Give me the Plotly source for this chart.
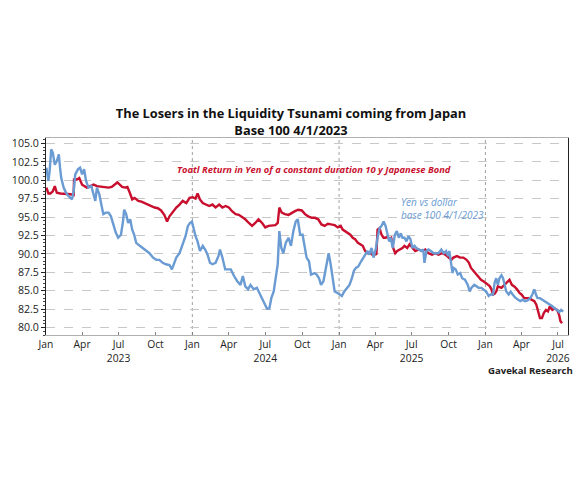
import plotly.graph_objects as go

# Yen vs dollar, base 100 4/1/2023
yen_dates = [
    "2023-01-02", "2023-01-07", "2023-01-10", "2023-01-14", "2023-01-18", "2023-01-23", "2023-01-28",
    "2023-02-02", "2023-02-05", "2023-02-08", "2023-02-14", "2023-02-20", "2023-02-27", "2023-03-07",
    "2023-03-11", "2023-03-15", "2023-03-22", "2023-03-27", "2023-04-01", "2023-04-06", "2023-04-11",
    "2023-04-17", "2023-04-24", "2023-04-30", "2023-05-04", "2023-05-08", "2023-05-14", "2023-05-19",
    "2023-05-24", "2023-05-30", "2023-06-06", "2023-06-12", "2023-06-18", "2023-06-24", "2023-06-30",
    "2023-07-07", "2023-07-12", "2023-07-15", "2023-07-20", "2023-07-25", "2023-07-30", "2023-08-04",
    "2023-08-09", "2023-08-14", "2023-08-23", "2023-08-31", "2023-09-08", "2023-09-16", "2023-09-25",
    "2023-10-03", "2023-10-11", "2023-10-19", "2023-10-27", "2023-11-05", "2023-11-11", "2023-11-17",
    "2023-11-22", "2023-11-30", "2023-12-08", "2023-12-15", "2023-12-21", "2023-12-26", "2023-12-31",
    "2024-01-04", "2024-01-09", "2024-01-14", "2024-01-20", "2024-01-27", "2024-02-02", "2024-02-08",
    "2024-02-14", "2024-02-20", "2024-02-28", "2024-03-06", "2024-03-10", "2024-03-16", "2024-03-23",
    "2024-03-28", "2024-04-06", "2024-04-14", "2024-04-22", "2024-04-30", "2024-05-06", "2024-05-12",
    "2024-05-19", "2024-05-25", "2024-06-02", "2024-06-10", "2024-06-16", "2024-06-23", "2024-06-29",
    "2024-07-05", "2024-07-11", "2024-07-16", "2024-07-22", "2024-07-27", "2024-08-01", "2024-08-05",
    "2024-08-10", "2024-08-15", "2024-08-21", "2024-08-28", "2024-09-03", "2024-09-09", "2024-09-15",
    "2024-09-20", "2024-09-26", "2024-10-02", "2024-10-07", "2024-10-12", "2024-10-18", "2024-10-23",
    "2024-11-01", "2024-11-06", "2024-11-12", "2024-11-17", "2024-11-23", "2024-11-28", "2024-12-03",
    "2024-12-06", "2024-12-11", "2024-12-17", "2024-12-21", "2024-12-28", "2025-01-02", "2025-01-08",
    "2025-01-14", "2025-01-21", "2025-01-27", "2025-02-02", "2025-02-07", "2025-02-12", "2025-02-18",
    "2025-02-25", "2025-03-03", "2025-03-09", "2025-03-13", "2025-03-17", "2025-03-23", "2025-03-28",
    "2025-04-03", "2025-04-07", "2025-04-12", "2025-04-17", "2025-04-22", "2025-04-27", "2025-05-02",
    "2025-05-06", "2025-05-10", "2025-05-15", "2025-05-20", "2025-05-25", "2025-05-30", "2025-06-04",
    "2025-06-08", "2025-06-13", "2025-06-18", "2025-06-23", "2025-06-28", "2025-07-03", "2025-07-08",
    "2025-07-13", "2025-07-19", "2025-07-25", "2025-07-30", "2025-08-02", "2025-08-07", "2025-08-12",
    "2025-08-18", "2025-08-25", "2025-08-31", "2025-09-06", "2025-09-13", "2025-09-19", "2025-09-25",
    "2025-09-30", "2025-10-03", "2025-10-07", "2025-10-11", "2025-10-14", "2025-10-19", "2025-10-24",
    "2025-10-30", "2025-11-04", "2025-11-11", "2025-11-18", "2025-11-23", "2025-11-27", "2025-12-04",
    "2025-12-10", "2025-12-15", "2025-12-22", "2025-12-28", "2026-01-03", "2026-01-09", "2026-01-14",
    "2026-01-20", "2026-01-24", "2026-01-28", "2026-02-01", "2026-02-05", "2026-02-10", "2026-02-14",
    "2026-02-18", "2026-02-22", "2026-02-28", "2026-03-05", "2026-03-10", "2026-03-16", "2026-03-23",
    "2026-03-29", "2026-04-04", "2026-04-10", "2026-04-16", "2026-04-23", "2026-04-28", "2026-05-03",
    "2026-05-07", "2026-05-11", "2026-05-17", "2026-05-23", "2026-05-29", "2026-06-04", "2026-06-11",
    "2026-06-17", "2026-06-23", "2026-06-29", "2026-07-04", "2026-07-09", "2026-07-14",
]
yen_values = [
    101.7, 99.9, 101.2, 104.2, 103.7, 102.1, 102.6,
    103.5, 101.7, 100.3, 99.0, 98.3, 97.8, 97.4,
    98.5, 100.8, 101.5, 101.7, 100.8, 101.5, 99.9,
    99.0, 99.2, 97.8, 97.2, 99.0, 98.1, 96.7,
    95.4, 95.6, 95.6, 95.1, 94.0, 92.9, 92.2,
    92.6, 94.4, 96.0, 95.4, 94.2, 94.7, 93.3,
    92.6, 91.5, 91.1, 90.8, 90.4, 90.1, 89.5,
    89.2, 89.2, 88.8, 88.6, 88.5, 87.9, 88.8,
    89.5, 90.1, 91.3, 92.4, 93.8, 94.2, 94.4,
    93.5, 92.4, 91.7, 90.4, 91.1, 90.6, 89.9,
    88.8, 88.6, 88.8, 89.7, 90.6, 89.5, 87.9,
    87.9, 87.9, 87.0, 86.3, 85.8, 87.0, 85.6,
    85.2, 85.8, 85.2, 85.4, 84.7, 84.0, 83.1,
    82.6, 82.6, 84.0, 84.9, 86.7, 88.6, 93.1,
    90.8, 90.1, 91.5, 92.2, 91.1, 93.1, 94.4,
    94.7, 92.6, 92.6, 90.8, 89.5, 89.0, 87.2,
    87.4, 87.2, 86.7, 85.8, 86.3, 87.7, 89.0,
    90.1, 88.6, 86.7, 84.9, 84.7, 84.5, 84.3,
    84.9, 85.4, 85.8, 86.7, 87.7, 88.1, 88.3,
    89.0, 89.5, 90.1, 90.4, 89.9, 90.8, 89.5,
    90.8, 92.2, 93.5, 93.8, 94.4, 93.8, 92.6,
    91.7, 92.2, 90.8, 92.6, 93.1, 92.2, 92.8,
    92.2, 92.2, 91.7, 92.4, 92.0, 90.8, 91.1,
    90.8, 90.6, 90.4, 90.6, 88.8, 90.4, 90.6,
    90.4, 90.1, 90.1, 90.1, 90.6, 90.1, 90.4,
    89.7, 90.4, 88.8, 87.4, 88.1, 87.9, 87.2,
    87.4, 86.7, 86.5, 85.8, 84.9, 85.4, 85.8,
    85.6, 85.4, 85.4, 85.2, 84.9, 84.3, 84.5,
    84.5, 86.1, 86.7, 85.8, 86.7, 87.1, 86.7,
    85.6, 84.9, 84.5, 84.9, 84.5, 84.1, 83.8,
    83.6, 83.8, 83.6, 83.7, 84.0, 84.5, 85.2,
    84.5, 84.0, 84.0, 83.8, 83.6, 83.4, 83.1,
    82.9, 82.6, 82.4, 82.1, 82.4, 82.2,
]

# Total return in yen of a constant duration 10y Japanese bond
jgb_dates = [
    "2023-01-02", "2023-01-07", "2023-01-12", "2023-01-18", "2023-01-23", "2023-01-28", "2023-02-06",
    "2023-02-18", "2023-03-03", "2023-03-11", "2023-03-12", "2023-03-19", "2023-03-25", "2023-04-01",
    "2023-04-07", "2023-04-13", "2023-04-21", "2023-04-30", "2023-05-08", "2023-05-18", "2023-05-28",
    "2023-06-06", "2023-06-14", "2023-06-22", "2023-06-28", "2023-07-04", "2023-07-10", "2023-07-17",
    "2023-07-23", "2023-07-29", "2023-08-04", "2023-08-10", "2023-08-19", "2023-08-27", "2023-09-04",
    "2023-09-12", "2023-09-20", "2023-09-29", "2023-10-07", "2023-10-15", "2023-10-23", "2023-10-30",
    "2023-11-05", "2023-11-13", "2023-11-22", "2023-11-30", "2023-12-08", "2023-12-17", "2023-12-25",
    "2024-01-02", "2024-01-09", "2024-01-14", "2024-01-20", "2024-01-27", "2024-02-04", "2024-02-12",
    "2024-02-20", "2024-02-28", "2024-03-08", "2024-03-16", "2024-03-24", "2024-04-01", "2024-04-09",
    "2024-04-18", "2024-04-26", "2024-05-04", "2024-05-12", "2024-05-21", "2024-05-29", "2024-06-06",
    "2024-06-14", "2024-06-23", "2024-07-01", "2024-07-09", "2024-07-18", "2024-07-26", "2024-08-01",
    "2024-08-05", "2024-08-11", "2024-08-19", "2024-08-28", "2024-09-05", "2024-09-13", "2024-09-21",
    "2024-09-30", "2024-10-08", "2024-10-16", "2024-10-25", "2024-11-02", "2024-11-10", "2024-11-18",
    "2024-11-26", "2024-12-04", "2024-12-12", "2024-12-21", "2024-12-29", "2025-01-05", "2025-01-10",
    "2025-01-16", "2025-01-23", "2025-01-29", "2025-02-04", "2025-02-10", "2025-02-17", "2025-02-23",
    "2025-03-01", "2025-03-07", "2025-03-13", "2025-03-20", "2025-03-25", "2025-03-30", "2025-04-04",
    "2025-04-07", "2025-04-12", "2025-04-17", "2025-04-22", "2025-04-27", "2025-05-02", "2025-05-06",
    "2025-05-11", "2025-05-16", "2025-05-21", "2025-05-26", "2025-06-02", "2025-06-08", "2025-06-13",
    "2025-06-20", "2025-06-26", "2025-07-03", "2025-07-10", "2025-07-19", "2025-07-27", "2025-08-04",
    "2025-08-12", "2025-08-21", "2025-08-29", "2025-09-06", "2025-09-15", "2025-09-23", "2025-10-01",
    "2025-10-08", "2025-10-13", "2025-10-22", "2025-10-30", "2025-11-07", "2025-11-15", "2025-11-21",
    "2025-11-26", "2025-12-02", "2025-12-08", "2025-12-14", "2025-12-21", "2025-12-27", "2026-01-02",
    "2026-01-08", "2026-01-12", "2026-01-16", "2026-01-20", "2026-01-24", "2026-01-28", "2026-02-01",
    "2026-02-10", "2026-02-18", "2026-02-26", "2026-03-02", "2026-03-08", "2026-03-14", "2026-03-21",
    "2026-03-27", "2026-04-01", "2026-04-08", "2026-04-14", "2026-04-20", "2026-04-26", "2026-05-03",
    "2026-05-08", "2026-05-13", "2026-05-17", "2026-05-22", "2026-05-27", "2026-06-01", "2026-06-06",
    "2026-06-11", "2026-06-17", "2026-06-23", "2026-06-29", "2026-07-04", "2026-07-07", "2026-07-11",
]
jgb_values = [
    99.0, 98.2, 98.2, 98.5, 99.2, 98.3, 98.2,
    98.2, 98.1, 98.0, 100.1, 100.1, 100.3, 99.4,
    99.2, 99.0, 99.2, 99.4, 99.2, 99.1, 99.0,
    99.0, 99.1, 99.4, 99.7, 99.4, 99.1, 99.0,
    99.1, 98.3, 97.4, 97.6, 97.2, 97.1, 96.9,
    96.7, 96.5, 96.3, 96.2, 95.9, 95.3, 94.4,
    95.1, 95.7, 96.3, 96.7, 97.2, 96.9, 97.6,
    97.7, 97.5, 98.2, 97.4, 96.9, 96.7, 96.5,
    96.7, 96.3, 96.7, 96.3, 96.5, 96.3, 95.8,
    95.4, 95.3, 95.0, 94.7, 94.2, 93.8, 94.2,
    94.7, 94.2, 93.6, 93.8, 93.9, 93.9, 94.2,
    96.3, 95.6, 95.4, 95.3, 95.6, 95.8, 96.0,
    95.9, 95.4, 95.1, 94.9, 94.9, 94.7, 94.0,
    93.8, 94.1, 94.0, 93.9, 93.6, 93.8, 93.3,
    93.1, 92.9, 92.6, 92.2, 92.0, 91.5, 91.3,
    91.1, 90.4, 90.1, 90.1, 89.9, 90.1, 89.9,
    93.3, 93.5, 92.6, 92.2, 92.2, 92.4, 92.0,
    92.2, 90.8, 90.1, 90.4, 90.6, 90.8, 91.1,
    90.8, 91.3, 90.8, 90.4, 90.6, 90.4, 90.6,
    90.1, 89.9, 90.1, 89.9, 90.1, 89.9, 89.5,
    89.2, 89.5, 89.7, 89.5, 89.5, 89.2, 88.8,
    88.1, 87.7, 87.4, 87.0, 86.5, 86.3, 86.1,
    85.8, 85.6, 85.2, 84.5, 84.6, 84.9, 85.6,
    85.4, 85.8, 86.3, 86.5, 85.8, 85.6, 85.2,
    84.7, 84.5, 84.0, 84.0, 84.0, 83.8, 83.6,
    83.1, 82.2, 81.3, 81.3, 82.0, 82.4, 82.2,
    82.9, 82.4, 82.6, 82.4, 81.7, 80.9, 80.6,
]

tick_dates = [
    "2023-01-01", "2023-04-01", "2023-07-01", "2023-10-01",
    "2024-01-01", "2024-04-01", "2024-07-01", "2024-10-01",
    "2025-01-01", "2025-04-01", "2025-07-01", "2025-10-01",
    "2026-01-01", "2026-04-01", "2026-07-01",
]
tick_labels = [
    "Jan", "Apr", "Jul<br>2023", "Oct",
    "Jan", "Apr", "Jul<br>2024", "Oct",
    "Jan", "Apr", "Jul<br>2025", "Oct",
    "Jan", "Apr", "Jul<br>2026",
]
year_starts = ["2024-01-01", "2025-01-01", "2026-01-01"]

RED = "#c8102e"
BLUE = "#6a9bd3"
FONT = "Open Sans"

fig = go.Figure()
fig.add_trace(go.Scatter(x=jgb_dates, y=jgb_values, mode="lines",
                         line=dict(color=RED, width=2.4), name="JGB"))
fig.add_trace(go.Scatter(x=yen_dates, y=yen_values, mode="lines",
                         line=dict(color=BLUE, width=2.4), name="Yen"))

# vertical dotted lines at each new year
for d in year_starts:
    fig.add_vline(x=d, line=dict(color="#a0a0a0", width=1, dash="dot"), layer="below")

fig.update_layout(
    width=582, height=482,
    margin=dict(l=41, r=13, t=138, b=147),
    paper_bgcolor="white", plot_bgcolor="white",
    showlegend=False,
    font=dict(family=FONT, size=10, color="#222222"),
    title=dict(
        text="<b>The Losers in the Liquidity Tsunami coming from Japan<br>Base 100 4/1/2023</b>",
        x=0.5, xanchor="center", xref="container",
        y=1 - 118 / 482, yanchor="middle", yref="container",
        font=dict(family=FONT, size=12.8, color="#111111"),
    ),
    xaxis=dict(
        type="date",
        range=["2023-01-01", "2026-07-26"],
        tickvals=tick_dates, ticktext=tick_labels,
        showgrid=False,
        showline=True, linecolor="#b0b0b0", linewidth=1, mirror=True,
        ticks="inside", ticklen=3, tickcolor="#808080",
        tickfont=dict(family=FONT, size=10.3, color="#222222"),
        zeroline=False,
    ),
    yaxis=dict(
        range=[79.0, 105.73],
        tickvals=[80, 82.5, 85, 87.5, 90, 92.5, 95, 97.5, 100, 102.5, 105],
        tickformat=".1f",
        showgrid=True, gridcolor="#c8c8c8", griddash="dash", gridwidth=1,
        showline=True, linecolor="#222222", linewidth=1, mirror=True,
        ticks="outside", ticklen=4, tickcolor="#222222",
        minor=dict(dtick=0.5, ticks="outside", ticklen=2, tickcolor="#444444", showgrid=False),
        tickfont=dict(family=FONT, size=10.6, color="#222222"),
        zeroline=False,
    ),
)

fig.add_annotation(
    text="<b><i>Toatl Return in Yen of a constant duration 10 y Japanese Bond</i></b>",
    xref="paper", yref="paper", x=0.248, y=0.839, xanchor="left", yanchor="middle",
    showarrow=False, font=dict(family=FONT, size=9.35, color=RED),
)
fig.add_annotation(
    text="<i>Yen vs dollar<br>base 100 4/1/2023</i>",
    xref="paper", yref="paper", x=0.677, y=0.642, xanchor="left", yanchor="middle",
    align="left", showarrow=False, font=dict(family=FONT, size=10, color=BLUE),
)
fig.add_annotation(
    text="<b>Gavekal Research</b>",
    xref="paper", yref="paper", x=1.013, y=-0.18, xanchor="right", yanchor="middle",
    showarrow=False, font=dict(family=FONT, size=9.6, color="#222222"),
)

# the page body has a default 8px margin; drop it so the figure sits at the window origin
fig.write_html("out.html", config={"displayModeBar": False},
               post_script="document.body.style.margin='0';")
